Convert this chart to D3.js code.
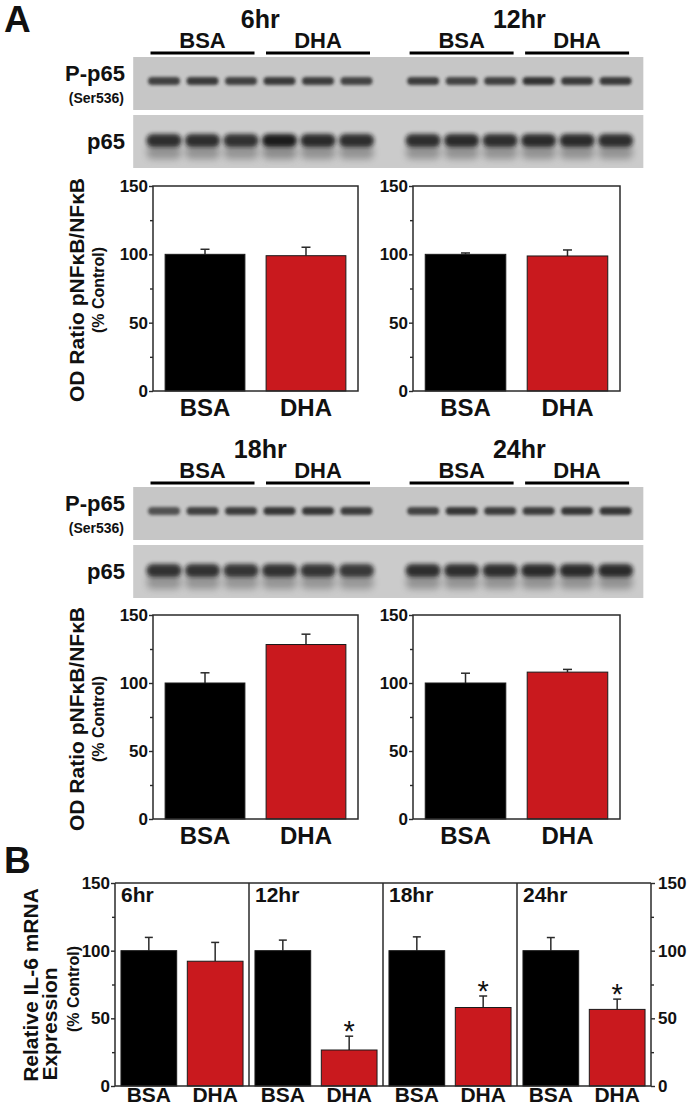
<!DOCTYPE html>
<html>
<head>
<meta charset="utf-8">
<script src="https://cdn.jsdelivr.net/npm/d3@7"></script>
<style>
  html, body { margin: 0; padding: 0; background: #fff; }
  svg { display: block; }
  text { font-family: "Liberation Sans", Arial, Helvetica, sans-serif; font-weight: bold; fill: #111; }
</style>
</head>
<body>
<svg id="chart" width="687" height="1108"></svg>
<script>
// ---------------- DATA ----------------
const timepoints = ["6hr", "12hr", "18hr", "24hr"];
const groups = ["BSA", "DHA"];

// Panel A: OD ratio pNFkB/NFkB (% control)
const odBSA    = [100, 100, 100, 100];
const odBSAErr = [3.7, 1.0, 7.5, 7.2];
const odDHA    = [99, 98.8, 128.3, 108];
const odDHAErr = [6.2, 4.4, 7.6, 2.0];

// Panel B: relative IL-6 mRNA expression (% control)
const il6BSA    = [100, 100, 100, 100];
const il6BSAErr = [9.8, 7.8, 10.2, 9.7];
const il6DHA    = [92.2, 26.6, 58, 56.6];
const il6DHAErr = [13.9, 10.2, 8.5, 7.6];
const il6Sig    = [false, true, true, true];

const yTicks = [0, 50, 100, 150];
const yMinorTicks = [25, 75, 125];

// Western blot band intensities (3 BSA lanes + 3 DHA lanes per time point)
const pp65Bands = [
  [0.78, 0.82, 0.78, 0.82, 0.80, 0.76],
  [0.80, 0.76, 0.78, 0.86, 0.82, 0.82],
  [0.68, 0.78, 0.80, 0.84, 0.84, 0.80],
  [0.76, 0.84, 0.80, 0.80, 0.84, 0.84]
];
const p65Bands = [
  [0.86, 0.86, 0.84, 0.96, 0.88, 0.86],
  [0.86, 0.88, 0.86, 0.88, 0.88, 0.86],
  [0.84, 0.84, 0.82, 0.84, 0.82, 0.80],
  [0.86, 0.86, 0.86, 0.88, 0.88, 0.88]
];

// ---------------- DRAW ----------------
const svg = d3.select("#chart");
const FONT = '"Liberation Sans", Arial, Helvetica, sans-serif';
const RED = "#c9191e";
const AXIS = "#2a2a2a";

const defs = svg.append("defs");
defs.append("filter").attr("id", "blurS").attr("x", "-30%").attr("y", "-80%").attr("width", "160%").attr("height", "260%")
  .append("feGaussianBlur").attr("stdDeviation", 1.6);
defs.append("filter").attr("id", "blurM").attr("x", "-30%").attr("y", "-80%").attr("width", "160%").attr("height", "260%")
  .append("feGaussianBlur").attr("stdDeviation", 2.2);
defs.append("filter").attr("id", "blurL").attr("x", "-30%").attr("y", "-80%").attr("width", "160%").attr("height", "260%")
  .append("feGaussianBlur").attr("stdDeviation", 3.5);

// Panel letters
svg.append("text").attr("x", 4).attr("y", 32).style("font-size", "37px").text("A");
svg.append("text").attr("x", 4).attr("y", 873).style("font-size", "37px").text("B");

// lane positions (6 lanes, gap, 6 lanes)
const laneScale = d3.scaleLinear().domain([0, 1]).range([164, 202.5]);
const laneX = (tpLocal, lane) => laneScale(lane + tpLocal * 6.73);

function blotBlock(rowIdx, top) {
  const g = svg.append("g");
  const tps = [rowIdx * 2, rowIdx * 2 + 1];
  // headers
  tps.forEach((tp, k) => {
    g.append("text").attr("x", laneX(k, 2.5)).attr("y", top + 28)
      .attr("text-anchor", "middle").style("font-size", "25px").text(timepoints[tp]);
    groups.forEach((grp, j) => {
      const cx = laneX(k, 1 + 3 * j);
      g.append("text").attr("x", cx).attr("y", top + 48)
        .attr("text-anchor", "middle").style("font-size", "22px").text(grp);
      g.append("line").attr("x1", cx - 52).attr("x2", cx + 52)
        .attr("y1", top + 53).attr("y2", top + 53)
        .attr("stroke", "#000").attr("stroke-width", 3);
    });
  });
  const bx0 = laneScale(-0.8), bx1 = laneScale(12.45);
  // blots
  const t1 = top + 57, t2 = top + 115;
  g.append("rect").attr("x", bx0).attr("y", t1).attr("width", bx1 - bx0).attr("height", 53).attr("fill", "#c6c6c6");
  g.append("rect").attr("x", bx0).attr("y", t2).attr("width", bx1 - bx0).attr("height", 53).attr("fill", "#cbcbcb");
  tps.forEach((tp, k) => {
    pp65Bands[tp].forEach((v, lane) => {
      const cx = laneX(k, lane);
      g.append("rect").attr("x", cx - 16).attr("y", t1 + 20).attr("width", 32).attr("height", 8).attr("rx", 4)
        .attr("fill", "#1e1e1e").attr("opacity", v).attr("filter", "url(#blurS)");
    });
    p65Bands[tp].forEach((v, lane) => {
      const cx = laneX(k, lane);
      g.append("rect").attr("x", cx - 17).attr("y", t2 + 30).attr("width", 34).attr("height", 14).attr("rx", 5)
        .attr("fill", "#555").attr("opacity", v * 0.55).attr("filter", "url(#blurL)");
      g.append("rect").attr("x", cx - 17.5).attr("y", t2 + 19).attr("width", 35).attr("height", 13).attr("rx", 6)
        .attr("fill", "#161616").attr("opacity", v).attr("filter", "url(#blurM)");
    });
  });
  // side labels
  g.append("text").attr("x", 125).attr("y", top + 81).attr("text-anchor", "end").style("font-size", "22px").text("P-p65");
  g.append("text").attr("x", 124).attr("y", top + 103).attr("text-anchor", "end").style("font-size", "14px").text("(Ser536)");
  g.append("text").attr("x", 125).attr("y", top + 149).attr("text-anchor", "end").style("font-size", "22px").text("p65");
}

function styleAxis(ax) {
  ax.select(".domain").remove();
  ax.selectAll(".tick line").attr("stroke", AXIS).attr("stroke-width", 1.4);
  ax.selectAll(".tick text").style("font-family", FONT).style("font-weight", "bold").style("font-size", "17px").attr("fill", "#111");
}

function errBar(g, x, y, cx, val, err, w) {
  const yTop = y(val + err);
  g.append("line").attr("x1", cx).attr("x2", cx).attr("y1", y(val)).attr("y2", yTop).attr("stroke", AXIS).attr("stroke-width", 1.5);
  g.append("line").attr("x1", cx - w / 2).attr("x2", cx + w / 2).attr("y1", yTop).attr("y2", yTop).attr("stroke", AXIS).attr("stroke-width", 1.5);
}

function odChart(tp, x0, y0, w, h) {
  const g = svg.append("g");
  const x = d3.scaleBand().domain(groups).range([x0, x0 + w]).paddingInner(0.21).paddingOuter(0.12);
  const y = d3.scaleLinear().domain([0, 150]).range([y0 + h, y0]);
  const vals = [odBSA[tp], odDHA[tp]], errs = [odBSAErr[tp], odDHAErr[tp]];
  groups.forEach((grp, i) => {
    errBar(g, x, y, x(grp) + x.bandwidth() / 2, vals[i], errs[i], 9);
  });
  g.selectAll("rect.bar").data(groups).enter().append("rect")
    .attr("x", d => x(d)).attr("width", x.bandwidth())
    .attr("y", (d, i) => y(vals[i])).attr("height", (d, i) => y(0) - y(vals[i]))
    .attr("fill", (d, i) => i === 0 ? "#000" : RED).attr("stroke", "#1a1a1a").attr("stroke-width", 1);
  g.append("rect").attr("x", x0).attr("y", y0).attr("width", w).attr("height", h)
    .attr("fill", "none").attr("stroke", AXIS).attr("stroke-width", 1.5);
  const ax = g.append("g").attr("transform", `translate(${x0},0)`)
    .call(d3.axisLeft(y).tickValues(yTicks).tickSize(4).tickPadding(1).tickFormat(d3.format("d")));
  styleAxis(ax);
  const axm = g.append("g").attr("transform", `translate(${x0},0)`)
    .call(d3.axisLeft(y).tickValues(yMinorTicks).tickSize(3).tickFormat(""));
  styleAxis(axm);
  groups.forEach(grp => {
    g.append("text").attr("x", x(grp) + x.bandwidth() / 2).attr("y", y0 + h + 25)
      .attr("text-anchor", "middle").style("font-size", "24px").text(grp);
  });
}

function odTitle(cy) {
  svg.append("text").attr("transform", `translate(84,${cy}) rotate(-90)`).attr("text-anchor", "middle")
    .style("font-size", "21px").text("OD Ratio pNFκB/NFκB");
  svg.append("text").attr("transform", `translate(104,${cy}) rotate(-90)`).attr("text-anchor", "middle")
    .style("font-size", "16px").text("(% Control)");
}

// Row 1
blotBlock(0, 0);
odChart(0, 153, 186, 205, 205);
odChart(1, 413, 186, 207, 205);
odTitle(290);

// Row 2
blotBlock(1, 430);
odChart(2, 153, 615, 205, 204);
odChart(3, 413, 615, 207, 204);
odTitle(719);

// ---------------- Panel B ----------------
(function () {
  const left = 115, right = 651, top = 883, bottom = 1086;
  const g = svg.append("g");
  const xt = d3.scaleBand().domain(timepoints).range([left, right]).padding(0);
  const y = d3.scaleLinear().domain([0, 150]).range([bottom, top]);

  timepoints.forEach((tp, t) => {
    const xg = d3.scaleBand().domain(groups).range([xt(tp), xt(tp) + xt.bandwidth()]).paddingInner(0.16).paddingOuter(0.09);
    const vals = [il6BSA[t], il6DHA[t]], errs = [il6BSAErr[t], il6DHAErr[t]];
    groups.forEach((grp, i) => {
      const cx = xg(grp) + xg.bandwidth() / 2;
      errBar(g, xg, y, cx, vals[i], errs[i], 8);
    });
    g.selectAll(null).data(groups).enter().append("rect")
      .attr("x", d => xg(d)).attr("width", xg.bandwidth())
      .attr("y", (d, i) => y(vals[i])).attr("height", (d, i) => y(0) - y(vals[i]))
      .attr("fill", (d, i) => i === 0 ? "#000" : RED).attr("stroke", "#1a1a1a").attr("stroke-width", 1);
    if (il6Sig[t]) {
      g.append("text").attr("x", xg("DHA") + xg.bandwidth() / 2).attr("y", y(il6DHA[t] + il6DHAErr[t]) + 5)
        .attr("text-anchor", "middle").style("font-size", "29px").style("font-weight", "normal").text("*");
    }
    g.append("text").attr("x", xt(tp) + 6).attr("y", 902).style("font-size", "21px").text(tp);
    groups.forEach(grp => {
      g.append("text").attr("x", xg(grp) + xg.bandwidth() / 2).attr("y", 1102)
        .attr("text-anchor", "middle").style("font-size", "21px").style("font-weight", "bold").text(grp);
    });
    if (t > 0) {
      g.append("line").attr("x1", xt(tp)).attr("x2", xt(tp)).attr("y1", top).attr("y2", bottom)
        .attr("stroke", AXIS).attr("stroke-width", 1.5);
    }
  });
  // frame lines
  g.append("line").attr("x1", left).attr("x2", right).attr("y1", top).attr("y2", top).attr("stroke", AXIS).attr("stroke-width", 1.5);
  g.append("line").attr("x1", left).attr("x2", right).attr("y1", bottom).attr("y2", bottom).attr("stroke", AXIS).attr("stroke-width", 1.5);
  g.append("line").attr("x1", left).attr("x2", left).attr("y1", top).attr("y2", bottom).attr("stroke", AXIS).attr("stroke-width", 1.5);
  g.append("line").attr("x1", right).attr("x2", right).attr("y1", top).attr("y2", bottom).attr("stroke", AXIS).attr("stroke-width", 1.5);

  const axL = g.append("g").attr("transform", `translate(${left},0)`)
    .call(d3.axisLeft(y).tickValues(yTicks).tickSize(4).tickPadding(1).tickFormat(d3.format("d")));
  styleAxis(axL);
  styleAxis(g.append("g").attr("transform", `translate(${left},0)`).call(d3.axisLeft(y).tickValues(yMinorTicks).tickSize(3).tickFormat("")));
  const axR = g.append("g").attr("transform", `translate(${right},0)`)
    .call(d3.axisRight(y).tickValues(yTicks).tickSize(4).tickPadding(3).tickFormat(d3.format("d")));
  styleAxis(axR);
  styleAxis(g.append("g").attr("transform", `translate(${right},0)`).call(d3.axisRight(y).tickValues(yMinorTicks).tickSize(3).tickFormat("")));

  svg.append("text").attr("transform", "translate(38,985) rotate(-90)").attr("text-anchor", "middle")
    .style("font-size", "21px").text("Relative IL-6 mRNA");
  svg.append("text").attr("transform", "translate(57,1024) rotate(-90)").attr("text-anchor", "middle")
    .style("font-size", "21px").text("Expression");
  svg.append("text").attr("transform", "translate(79,989) rotate(-90)").attr("text-anchor", "middle")
    .style("font-size", "16px").text("(% Control)");
})();
</script>
</body>
</html>
